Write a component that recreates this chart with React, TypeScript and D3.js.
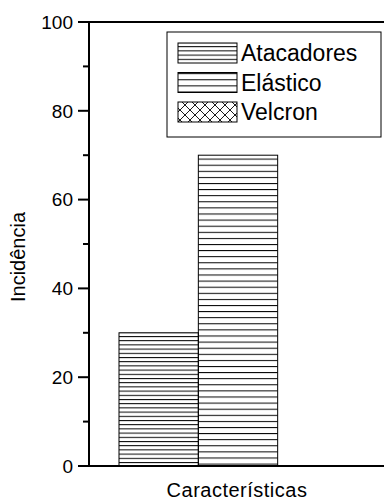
import React from "react";
import * as d3 from "d3";

const categories = ["Atacadores", "Elástico", "Velcron"];
const values: (number | null)[] = [30, 70, null];
const yTicks = [0, 20, 40, 60, 80, 100];
const yMinorTicks = [10, 30, 50, 70, 90];
const xTitle = "Características";
const yTitle = "Incidência";

const W = 384;
const H = 500;
const left = 89;
const right = 390;
const top = 22;
const bottom = 466;

export default function App() {
  const y = d3.scaleLinear().domain([0, 100]).range([bottom, top]);
  const x = d3.scaleBand().domain(categories).range([119, 357]).paddingInner(0).paddingOuter(0);
  const font = "Arial, 'Liberation Sans', sans-serif";
  const patterns = ["p-atac", "p-elas", "p-velc"];

  const legendX = 167;
  const legendY = 32;
  const legendW = 214;
  const legendH = 105;
  const rowPitch = 29.5;

  return (
    <svg width={W} height={H} style={{ position: "absolute", left: 0, top: 0 }} fontFamily={font}>
      <defs>
        <pattern id="p-atac" patternUnits="userSpaceOnUse" width={10} height={4.2}>
          <line x1={0} x2={10} y1={0.5} y2={0.5} stroke="#000" strokeWidth={1} />
        </pattern>
        <pattern id="p-elas" patternUnits="userSpaceOnUse" width={10} height={6.1}>
          <line x1={0} x2={10} y1={0.5} y2={0.5} stroke="#000" strokeWidth={1} />
        </pattern>
        <pattern id="p-velc" patternUnits="userSpaceOnUse" width={10} height={10}>
          <path d="M0,0 L10,10 M10,0 L0,10" stroke="#000" strokeWidth={0.9} />
        </pattern>
      </defs>
      <rect x={0} y={0} width={W} height={H} fill="#fff" />

      {/* bars */}
      {categories.map((c, i) => {
        const v = values[i];
        if (v == null) return null;
        return (
          <rect
            key={c}
            x={x(c)!}
            y={y(v)}
            width={x.bandwidth()}
            height={y(0) - y(v)}
            fill={`url(#${patterns[i]})`}
            stroke="#000"
            strokeWidth={1}
          />
        );
      })}

      {/* axes box */}
      <line x1={left} x2={right} y1={top} y2={top} stroke="#000" strokeWidth={2} />
      <line x1={left} x2={right} y1={bottom} y2={bottom} stroke="#000" strokeWidth={2} />
      <line x1={left} x2={left} y1={top} y2={bottom} stroke="#000" strokeWidth={2} />

      {yTicks.map((t) => (
        <g key={t}>
          <line x1={left - 11} x2={left} y1={y(t)} y2={y(t)} stroke="#000" strokeWidth={2} />
          <text x={left - 16} y={y(t)} dy="0.36em" textAnchor="end" fontSize={19} fill="#000">
            {t}
          </text>
        </g>
      ))}
      {yMinorTicks.map((t) => (
        <line key={t} x1={left - 6} x2={left} y1={y(t)} y2={y(t)} stroke="#000" strokeWidth={2} />
      ))}

      <text x={237} y={497} textAnchor="middle" fontSize={20} letterSpacing={0.5} fill="#000">
        {xTitle}
      </text>
      <text
        transform={`translate(25, ${257}) rotate(-90)`}
        textAnchor="middle"
        fontSize={20}
        fill="#000"
      >
        {yTitle}
      </text>

      {/* legend */}
      <rect x={legendX} y={legendY} width={legendW} height={legendH} fill="#fff" stroke="#000" strokeWidth={1} />
      {categories.map((c, i) => {
        const ry = legendY + 11 + i * rowPitch;
        return (
          <g key={c}>
            <rect x={178} y={ry} width={59} height={20} fill={`url(#${patterns[i]})`} stroke="#000" strokeWidth={1} />
            <text x={241} y={ry + 10} dy="0.36em" fontSize={23} fill="#000">
              {c}
            </text>
          </g>
        );
      })}
    </svg>
  );
}
